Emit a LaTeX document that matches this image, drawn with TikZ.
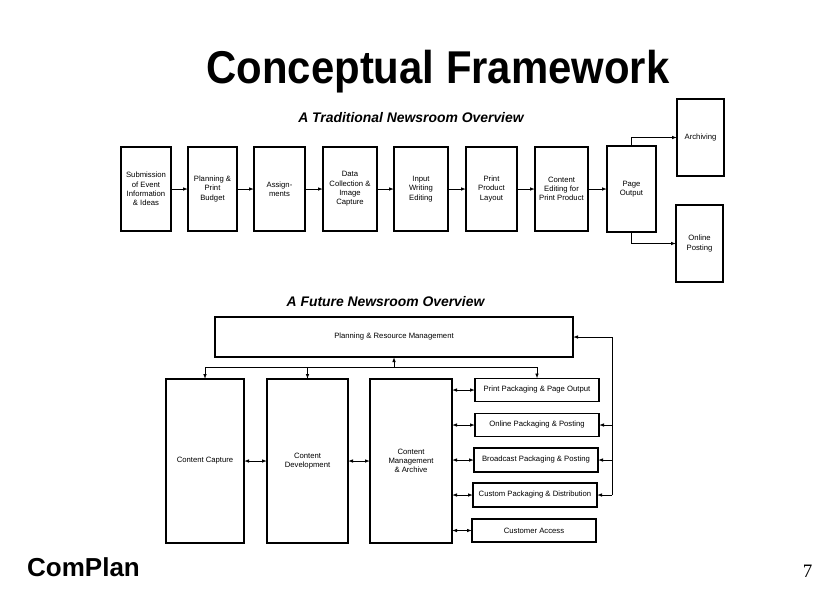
\documentclass[tikz,border=0pt]{standalone}
\usepackage{fontspec}
\setmainfont{Liberation Sans}
\newfontfamily\serifnum{Liberation Serif}
\usetikzlibrary{arrows.meta}

\begin{document}
\begin{tikzpicture}[x=1pt,y=-1pt,
  box/.style={draw, line width=1.7pt, inner sep=1pt, outer sep=0pt,
    align=center, font=\fontsize{7.7}{9.3}\selectfont},
  tallbox/.style={box, minimum height=84pt},
  sidebox/.style={box, minimum height=77pt, minimum width=47pt},
  pkgbox/.style={box, minimum height=23pt, minimum width=124pt},
  colbox/.style={box, minimum height=164pt},
  link/.style={line width=0.9pt, -{Latex[length=5pt,width=3.6pt]}},
  dlink/.style={line width=0.9pt, {Latex[length=5pt,width=3.6pt]}-{Latex[length=5pt,width=3.6pt]}},
  subtitle/.style={font=\bfseries\itshape\fontsize{13.9}{16}\selectfont, anchor=base, inner sep=0pt}
]
\useasboundingbox (0,0) rectangle (831,600);
\fill[white] (0,0) rectangle (831,600);

% headings
\node[anchor=base, inner sep=0pt, font=\bfseries\fontsize{46}{50}\selectfont]
  (title) at (438,83) {\scalebox{0.91}[1]{Conceptual Framework}};
\node[subtitle] (sub1) at (411,122) {A Traditional Newsroom Overview};
\node[subtitle] (sub2) at (385.5,306) {A Future Newsroom Overview};

% traditional workflow
\node[tallbox, minimum width=50pt] (s1) at (146,189) {Submission\\of Event\\Information\\\& Ideas};
\node[tallbox, minimum width=49pt] (s2) at (212.5,189) {Planning \&\\Print\\Budget};
\node[tallbox, minimum width=51pt] (s3) at (279.5,189) {Assign-\\ments};
\node[tallbox, minimum width=54pt] (s4) at (350,189) {Data\\Collection \&\\Image\\Capture};
\node[tallbox, minimum width=54pt] (s5) at (421,189) {Input\\Writing\\Editing};
\node[tallbox, minimum width=51pt] (s6) at (491.5,189) {Print\\Product\\Layout};
\node[tallbox, minimum width=53pt] (s7) at (561.5,189) {Content\\Editing for\\Print Product};
\node[tallbox, minimum width=49pt, minimum height=86pt] (s8) at (631.5,189) {Page\\Output};
\node[sidebox] (arch) at (700.5,137.5) {Archiving};
\node[sidebox] (online) at (699.5,243.5) {Online\\Posting};

\foreach \a/\b in {s1/s2,s2/s3,s3/s4,s4/s5,s5/s6,s6/s7,s7/s8}
  \draw[link] (\a.east) -- (\b.west);
\draw[link] (s8.north) |- (arch.west);
\draw[link] (s8.south) |- (online.west);

% future workflow
\node[box, minimum width=358pt, minimum height=40pt] (prm) at (394,337) {Planning \& Resource Management};
\node[colbox, minimum width=78pt] (cc) at (205,461) {Content Capture};
\node[colbox, minimum width=81pt] (cd) at (307.5,461) {Content\\Development};
\node[colbox, minimum width=82pt] (cm) at (411,461) {Content\\Management\\\& Archive};
\node[pkgbox] (p1) at (537,390) {Print Packaging \& Page Output};
\node[pkgbox] (p2) at (537,425) {Online Packaging \& Posting};
\node[pkgbox, minimum height=24pt] (p3) at (536,460) {Broadcast Packaging \& Posting};
\node[pkgbox, minimum height=24pt] (p4) at (535,495) {Custom Packaging \& Distribution};
\node[pkgbox] (p5) at (534,530.5) {Customer Access};

% distribution bus below the planning box
\coordinate (bus) at (0,367);
\draw[line width=0.9pt] (cc.north |- bus) -- (p1.north |- bus);
\draw[link] (prm.south |- bus) -- (prm.south);
\draw[link] (cc.north |- bus) -- (cc.north);
\draw[link] (cd.north |- bus) -- (cd.north);
\draw[link] (p1.north |- bus) -- (p1.north);

\draw[dlink] (cc.east) -- (cd.west);
\draw[dlink] (cd.east |- cd.center) -- (cm.west |- cd.center);
\foreach \p in {p1,p2,p3,p4,p5}
  \draw[dlink] (\p.west -| cm.east) -- (\p.west);

% feedback loop on the right
\coordinate (fb) at (612,0);
\draw[link] (p4.east -| fb) |- (prm.east);
\foreach \p in {p2,p3,p4}
  \draw[link] (\p.east -| fb) -- (\p.east);

% footer
\node[anchor=base west, inner sep=0pt, font=\bfseries\fontsize{26}{30}\selectfont] (brand) at (27,576) {ComPlan};
\node[anchor=base, inner sep=0pt, font=\serifnum\fontsize{19}{22}\selectfont] (page) at (807.5,577) {7};
\end{tikzpicture}
\end{document}
